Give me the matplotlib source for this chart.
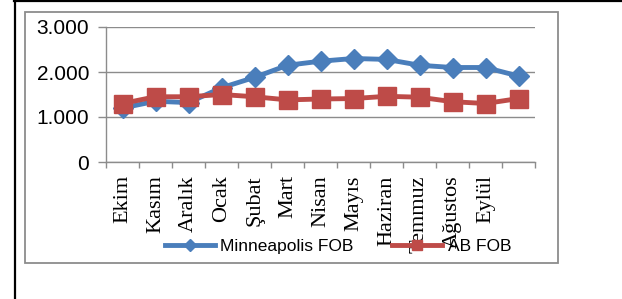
import matplotlib
matplotlib.use("Agg")
import matplotlib.pyplot as plt
from matplotlib.lines import Line2D
from matplotlib.patches import Rectangle
import numpy as np

months = ["Ekim", "Kasım", "Aralık", "Ocak", "Şubat", "Mart", "Nisan",
          "Mayıs", "Haziran", "Temmuz", "Ağustos", "Eylül", ""]
minneapolis = [1200, 1350, 1320, 1650, 1880, 2150, 2240, 2300, 2280, 2150, 2100, 2100, 1910]
ab = [1300, 1450, 1450, 1500, 1450, 1380, 1400, 1410, 1460, 1440, 1340, 1300, 1410]
yticks = [0, 1000, 2000, 3000]
ytick_labels = ["0", "1.000", "2.000", "3.000"]

W, H = 622, 299
fig = plt.figure(figsize=(W / 100, H / 100), dpi=100)

def fx(px):
    return px / W

def fy(py):
    return 1 - py / H

# outer black border (left and top)
fig.add_artist(Line2D([fx(15), fx(15)], [0, 1], color="black", lw=1.6))
fig.add_artist(Line2D([fx(14), 1], [fy(1), fy(1)], color="black", lw=1.6))
# gray chart frame
fig.add_artist(Rectangle((fx(25), fy(263)), fx(558) - fx(25), fy(12) - fy(263),
                         fill=False, edgecolor="#8c8c8c", lw=1.3))

left, right, top, bottom = 106, 535, 27, 162
ax = fig.add_axes([fx(left), fy(bottom), fx(right) - fx(left), fy(top) - fy(bottom)])

x = np.arange(len(months)) + 0.5
ax.plot(x, minneapolis, color="#4a7ebb", lw=3.5, marker="D", markersize=10,
        label="Minneapolis FOB", zorder=3)
ax.plot(x, ab, color="#be4b48", lw=3.5, marker="s", markersize=13,
        label="AB FOB", zorder=4)

ax.set_xlim(0, len(months))
ax.set_ylim(0, 3000)
ax.set_yticks(yticks)
ax.set_yticklabels(ytick_labels, fontfamily="Liberation Sans", fontsize=15)
ax.set_xticks(x)
ax.set_xticklabels(months, rotation=90, fontfamily="Liberation Serif", fontsize=16,
                   va="top", ha="center")
ax.set_xticks(np.arange(len(months) + 1), minor=True)
ax.tick_params(axis="x", which="major", length=0, pad=9.5)
ax.tick_params(axis="x", which="minor", length=4, color="#8c8c8c", width=1)
ax.tick_params(axis="y", length=6, color="#8c8c8c", width=1, pad=6)

ax.grid(axis="y", color="#8c8c8c", lw=1)
ax.set_axisbelow(True)
for s in ["top", "right"]:
    ax.spines[s].set_visible(False)
ax.spines["left"].set_color("#8c8c8c")
ax.spines["bottom"].set_color("#8c8c8c")
ax.spines["left"].set_linewidth(1)
ax.spines["bottom"].set_linewidth(1)

leg = fig.legend(loc="center", bbox_to_anchor=(fx(338), fy(246)), ncol=2, frameon=False,
                 prop={"family": "Liberation Sans", "size": 12.5},
                 handlelength=2.9, handletextpad=0.3, columnspacing=2.2,
                 borderaxespad=0, markerscale=0.6)

fig.savefig("out.png", dpi=100)
